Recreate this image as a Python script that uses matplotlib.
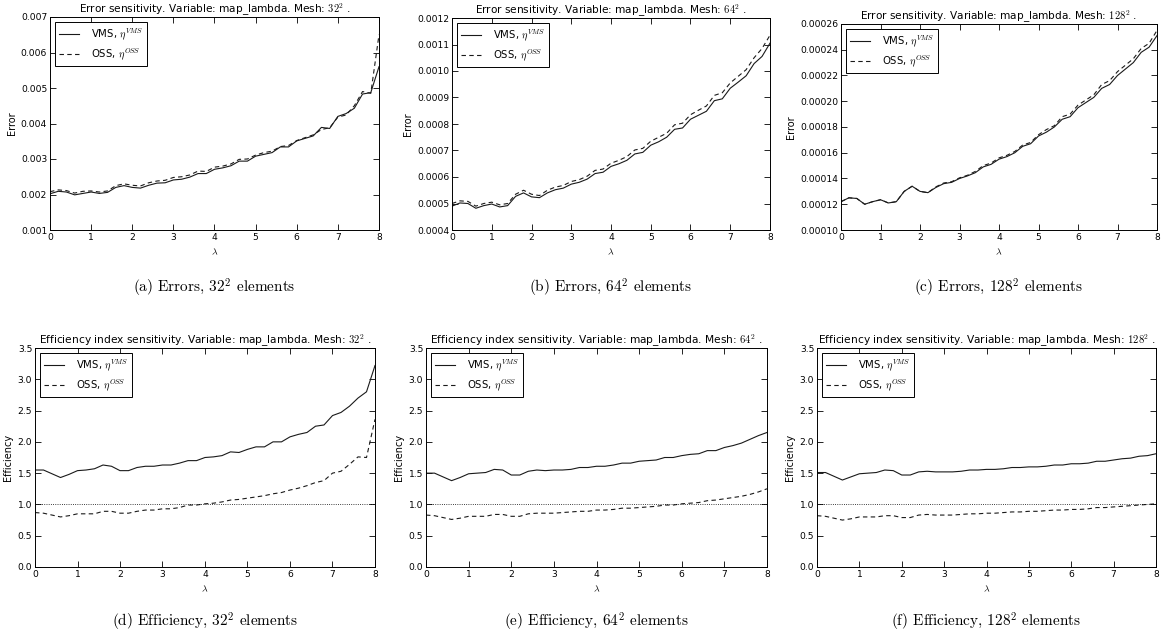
import numpy as np
import matplotlib
matplotlib.use("Agg")
import matplotlib.pyplot as plt
from matplotlib.ticker import FormatStrFormatter, MultipleLocator

plt.rcParams["mathtext.fontset"] = "cm"
plt.rcParams["font.family"] = "DejaVu Sans"

# lambda sweep: 0, 0.2, ..., 8.0
LAMBDA = np.round(np.arange(41) * 0.2, 1)

# --- errors ---
err_vms_32 = [0.00202, 0.00209, 0.00207, 0.00199, 0.00203, 0.00207, 0.00203, 0.00206, 0.00220, 0.00225,
              0.00220, 0.00218, 0.00226, 0.00232, 0.00233, 0.00241, 0.00243, 0.00249, 0.00259, 0.00259,
              0.00271, 0.00275, 0.00281, 0.00294, 0.00294, 0.00308, 0.00313, 0.00318, 0.00334, 0.00334,
              0.00351, 0.00358, 0.00365, 0.00389, 0.00386, 0.00420, 0.00428, 0.00443, 0.00483, 0.00487,
              0.00560]
err_oss_32 = [0.00208, 0.00213, 0.00211, 0.00204, 0.00209, 0.00210, 0.00207, 0.00210, 0.00225, 0.00230,
              0.00226, 0.00224, 0.00233, 0.00238, 0.00240, 0.00248, 0.00250, 0.00255, 0.00266, 0.00265,
              0.00277, 0.00280, 0.00286, 0.00299, 0.00300, 0.00311, 0.00318, 0.00322, 0.00335, 0.00338,
              0.00352, 0.00360, 0.00368, 0.00383, 0.00388, 0.00418, 0.00424, 0.00450, 0.00490, 0.00485,
              0.00650]
err_vms_64 = [0.000490, 0.000502, 0.000500, 0.000482, 0.000492, 0.000498, 0.000487, 0.000492, 0.000527, 0.000540,
              0.000525, 0.000522, 0.000540, 0.000552, 0.000558, 0.000573, 0.000580, 0.000592, 0.000613, 0.000618,
              0.000640, 0.000650, 0.000663, 0.000687, 0.000693, 0.000720, 0.000733, 0.000750, 0.000780, 0.000785,
              0.000818, 0.000833, 0.000848, 0.000888, 0.000895, 0.000935, 0.000958, 0.000982, 0.001028, 0.001055,
              0.001105]
err_oss_64 = [0.000500, 0.000510, 0.000508, 0.000490, 0.000500, 0.000505, 0.000495, 0.000500, 0.000535, 0.000550,
              0.000535, 0.000530, 0.000550, 0.000562, 0.000568, 0.000583, 0.000590, 0.000603, 0.000625, 0.000630,
              0.000652, 0.000663, 0.000677, 0.000702, 0.000708, 0.000735, 0.000750, 0.000765, 0.000797, 0.000803,
              0.000835, 0.000852, 0.000868, 0.000908, 0.000918, 0.000955, 0.000980, 0.001005, 0.001050, 0.001085,
              0.001135]
err_vms_128 = [0.0001220, 0.0001250, 0.0001245, 0.0001200, 0.0001220, 0.0001235, 0.0001210, 0.0001220, 0.0001300, 0.0001340,
               0.0001300, 0.0001290, 0.0001330, 0.0001360, 0.0001370, 0.0001400, 0.0001420, 0.0001445, 0.0001490, 0.0001510,
               0.0001550, 0.0001570, 0.0001600, 0.0001650, 0.0001670, 0.0001730, 0.0001760, 0.0001800, 0.0001860, 0.0001880,
               0.0001950, 0.0001990, 0.0002030, 0.0002100, 0.0002130, 0.0002200, 0.0002250, 0.0002300, 0.0002380, 0.0002420,
               0.0002510]
err_oss_128 = [0.0001220, 0.0001250, 0.0001245, 0.0001200, 0.0001220, 0.0001235, 0.0001210, 0.0001220, 0.0001300, 0.0001340,
               0.0001300, 0.0001290, 0.0001335, 0.0001365, 0.0001375, 0.0001405, 0.0001425, 0.0001455, 0.0001500, 0.0001520,
               0.0001560, 0.0001580, 0.0001610, 0.0001660, 0.0001680, 0.0001740, 0.0001780, 0.0001810, 0.0001880, 0.0001900,
               0.0001970, 0.0002010, 0.0002050, 0.0002130, 0.0002160, 0.0002230, 0.0002280, 0.0002330, 0.0002410, 0.0002450,
               0.0002550]

# --- efficiency index ---
eff_vms_32 = [1.55, 1.55, 1.49, 1.43, 1.48, 1.54, 1.55, 1.57, 1.63, 1.61,
              1.54, 1.54, 1.59, 1.61, 1.61, 1.63, 1.63, 1.66, 1.70, 1.70,
              1.75, 1.76, 1.78, 1.84, 1.83, 1.88, 1.92, 1.92, 2.00, 2.00,
              2.08, 2.12, 2.15, 2.25, 2.27, 2.42, 2.47, 2.57, 2.70, 2.80,
              3.22]
eff_oss_32 = [0.87, 0.86, 0.83, 0.80, 0.82, 0.85, 0.85, 0.85, 0.89, 0.89,
              0.86, 0.86, 0.89, 0.91, 0.91, 0.93, 0.93, 0.95, 0.99, 0.99,
              1.01, 1.02, 1.04, 1.07, 1.08, 1.10, 1.12, 1.14, 1.17, 1.19,
              1.23, 1.26, 1.30, 1.35, 1.38, 1.50, 1.53, 1.64, 1.76, 1.75,
              2.36]
eff_vms_64 = [1.50, 1.50, 1.44, 1.38, 1.43, 1.49, 1.50, 1.51, 1.56, 1.55,
              1.47, 1.47, 1.53, 1.55, 1.54, 1.55, 1.55, 1.56, 1.59, 1.59,
              1.61, 1.61, 1.63, 1.66, 1.66, 1.69, 1.70, 1.71, 1.75, 1.75,
              1.78, 1.80, 1.81, 1.86, 1.86, 1.91, 1.94, 1.98, 2.04, 2.10,
              2.15]
eff_oss_64 = [0.83, 0.82, 0.79, 0.76, 0.78, 0.81, 0.81, 0.81, 0.84, 0.84,
              0.81, 0.81, 0.85, 0.86, 0.86, 0.86, 0.87, 0.88, 0.89, 0.89,
              0.91, 0.91, 0.92, 0.94, 0.94, 0.95, 0.96, 0.97, 0.99, 0.99,
              1.01, 1.02, 1.03, 1.06, 1.07, 1.09, 1.11, 1.13, 1.16, 1.20,
              1.25]
eff_vms_128 = [1.51, 1.51, 1.45, 1.39, 1.44, 1.49, 1.50, 1.51, 1.55, 1.54,
               1.47, 1.47, 1.52, 1.53, 1.52, 1.52, 1.52, 1.53, 1.55, 1.55,
               1.56, 1.56, 1.57, 1.59, 1.59, 1.60, 1.60, 1.61, 1.63, 1.63,
               1.65, 1.65, 1.66, 1.69, 1.69, 1.71, 1.73, 1.74, 1.77, 1.78,
               1.81]
eff_oss_128 = [0.82, 0.81, 0.78, 0.75, 0.77, 0.80, 0.80, 0.80, 0.82, 0.82,
               0.79, 0.79, 0.83, 0.84, 0.83, 0.83, 0.83, 0.84, 0.85, 0.85,
               0.86, 0.86, 0.87, 0.88, 0.88, 0.89, 0.89, 0.90, 0.91, 0.91,
               0.92, 0.92, 0.93, 0.95, 0.95, 0.96, 0.97, 0.98, 0.99, 1.00,
               1.01]

MESHES = ["32", "64", "128"]
ERR_VMS = [err_vms_32, err_vms_64, err_vms_128]
ERR_OSS = [err_oss_32, err_oss_64, err_oss_128]
EFF_VMS = [eff_vms_32, eff_vms_64, eff_vms_128]
EFF_OSS = [eff_oss_32, eff_oss_64, eff_oss_128]
ERR_LIMS = [(0.001, 0.007, 0.001, "%.3f"), (0.0004, 0.0012, 0.0001, "%.4f"), (0.0001, 0.00026, 0.00002, "%.5f")]
CAP_TOP = ["(a)", "(b)", "(c)"]
CAP_BOT = ["(d)", "(e)", "(f)"]

W, H = 1167, 641
fig = plt.figure(figsize=(W / 100, H / 100), dpi=100)


def px_axes(left, top, right, bottom):
    return fig.add_axes([left / W, 1 - bottom / H, (right - left) / W, (bottom - top) / H])


def style(ax):
    ax.tick_params(direction="in", top=True, right=True, labelsize=6.6, length=4, width=0.6, pad=2)
    ax.xaxis.set_major_locator(MultipleLocator(1))
    for s in ax.spines.values():
        s.set_linewidth(0.7)


def add_legend(ax):
    leg = ax.legend(loc="upper left", fontsize=7.3, fancybox=False, framealpha=1,
                    edgecolor="black", handlelength=2.0, handletextpad=1.1,
                    borderpad=0.45, labelspacing=0.4, borderaxespad=0.45)
    leg.get_frame().set_linewidth(0.7)


top_boxes = [(50, 17, 379, 230), (452, 18, 770, 230), (841, 24, 1157, 230)]
bot_boxes = [(35, 348, 375, 567), (426, 348, 767, 567), (817, 348, 1156, 567)]

for i, mesh in enumerate(MESHES):
    # error row
    ax = px_axes(*top_boxes[i])
    ax.plot(LAMBDA, ERR_VMS[i], color="#1a1a1a", lw=0.8, label=r"VMS, $\eta^{VMS}$")
    ax.plot(LAMBDA, ERR_OSS[i], color="#1a1a1a", lw=0.8, ls="--", dashes=(4, 3), label=r"OSS, $\eta^{OSS}$")
    lo, hi, step, fmt = ERR_LIMS[i]
    ax.set_xlim(0, 8)
    ax.set_ylim(lo, hi)
    ax.yaxis.set_major_locator(MultipleLocator(step))
    ax.yaxis.set_major_formatter(FormatStrFormatter(fmt))
    style(ax)
    ax.set_ylabel("Error", fontsize=7, labelpad=3)
    ax.set_xlabel(r"$\lambda$", fontsize=7, labelpad=4)
    ax.set_title("Error sensitivity. Variable: map_lambda. Mesh: $%s^2$ ." % mesh, fontsize=7.6, pad=3)
    add_legend(ax)
    cx = (top_boxes[i][0] + top_boxes[i][2]) / 2 / W
    fig.text(cx, 1 - 288 / H, r"%s Errors, $%s^2$ elements" % (CAP_TOP[i], mesh),
             family="cmr10", fontsize=11, ha="center", va="center")

    # efficiency row
    ax = px_axes(*bot_boxes[i])
    ax.plot(LAMBDA, EFF_VMS[i], color="#1a1a1a", lw=0.8, label=r"VMS, $\eta^{VMS}$")
    ax.plot(LAMBDA, EFF_OSS[i], color="#1a1a1a", lw=0.8, ls="--", dashes=(4, 3), label=r"OSS, $\eta^{OSS}$")
    ax.axhline(1.0, color="black", lw=0.6, ls=":")
    ax.set_xlim(0, 8)
    ax.set_ylim(0, 3.5)
    ax.yaxis.set_major_locator(MultipleLocator(0.5))
    ax.yaxis.set_major_formatter(FormatStrFormatter("%.1f"))
    style(ax)
    ax.set_ylabel("Efficiency", fontsize=7, labelpad=3)
    ax.set_xlabel(r"$\lambda$", fontsize=7, labelpad=4)
    ax.set_title("Efficiency index sensitivity. Variable: map_lambda. Mesh: $%s^2$ ." % mesh,
                 fontsize=7.7, pad=3)
    add_legend(ax)
    cx = (bot_boxes[i][0] + bot_boxes[i][2]) / 2 / W
    fig.text(cx, 1 - 622 / H, r"%s Efficiency, $%s^2$ elements" % (CAP_BOT[i], mesh),
             family="cmr10", fontsize=11, ha="center", va="center")

fig.savefig("out.png", dpi=100)
